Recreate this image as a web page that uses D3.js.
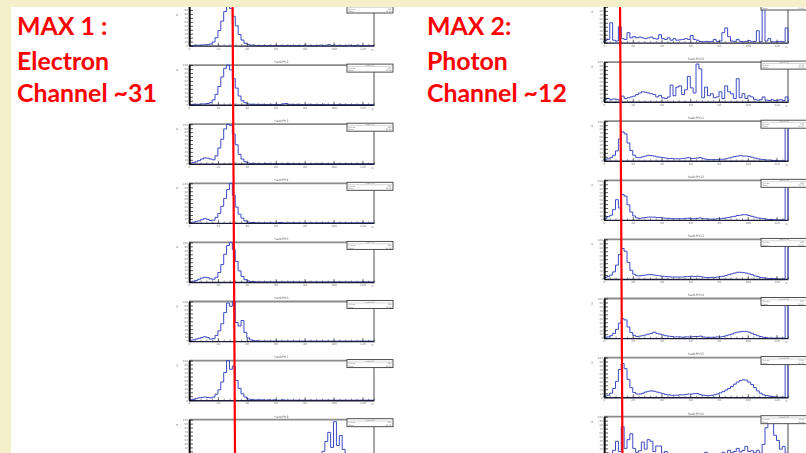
<!DOCTYPE html>
<html>
<head>
<meta charset="utf-8">
<script src="https://cdn.jsdelivr.net/npm/d3@7"></script>
<style>
  html, body { margin: 0; padding: 0; background: #ffffff; }
  svg { display: block; }
</style>
</head>
<body>
<svg id="chart" width="806" height="453"></svg>
<script>
// ---- ADC spectra, 64 bins of 2 channels each over channels 0..128 ----
// Electron-side readout (left column), counts in % of each pad's full scale
const elec1 = [0,0,1,1,1,2,2,4,9,20,38,62,86,100,94,74,50,28,14,6,3,1,1,0,0,0,0,0,0,0,0,0,0,0,0,0,0,0,0,0,1,0,0,0,0,1,0,1,2,0,1,0,0,0,0,1,0,0,1,0,0,0,0,0];
const elec2 = [0,1,1,1,2,2,3,5,12,26,46,70,92,100,88,66,42,22,10,5,2,1,1,1,0,1,0,0,1,0,1,0,2,3,1,1,0,1,0,0,0,1,0,0,0,0,1,0,0,0,0,0,1,0,0,0,0,0,0,0,0,0,0,0];
const elec3 = [2,3,5,8,12,15,14,12,10,20,40,62,88,100,97,75,48,24,12,5,2,1,1,0,0,0,1,0,0,0,0,0,0,0,1,0,0,0,0,0,0,0,0,0,0,1,0,0,0,0,0,0,0,0,0,0,0,0,0,0,0,0,0,0];
const elec4 = [1,2,3,5,8,11,9,6,7,14,24,42,62,84,100,70,40,22,12,5,2,1,1,0,0,0,0,0,0,0,0,1,0,0,0,0,0,0,0,0,0,0,0,0,0,0,0,0,0,0,0,0,0,0,0,0,0,0,0,0,0,0,0,0];
const elec5 = [1,2,4,7,10,12,11,8,7,12,24,44,70,92,100,82,52,28,14,6,3,1,1,0,0,0,0,0,0,0,0,0,0,0,0,0,0,0,0,0,0,0,0,0,0,0,0,0,0,0,0,0,0,0,0,0,0,0,0,0,0,0,0,0];
const elec6 = [2,3,5,7,9,11,9,5,6,14,26,44,72,96,88,100,47,38,52,22,8,3,1,1,0,0,0,0,0,0,0,0,0,0,0,0,0,0,0,0,0,0,0,0,0,0,0,0,0,0,0,0,0,0,0,0,0,0,0,0,0,0,0,0];
const elec7 = [1,2,4,6,7,8,7,6,8,15,26,46,70,100,78,86,50,30,16,8,3,2,1,1,1,1,0,1,0,1,0,0,1,0,0,0,0,0,0,0,0,0,0,0,0,0,0,0,0,0,0,0,0,0,0,0,0,0,0,0,0,0,0,0];
const elec8 = [0,0,0,1,0,0,0,0,1,0,0,0,0,0,0,0,0,0,0,0,0,0,0,0,0,0,0,0,0,0,0,0,0,0,0,0,0,0,0,0,0,0,2,3,5,8,20,45,68,30,95,35,60,25,10,4,2,1,0,0,0,0,0,0];

// Photon-side readout (right column)
const phot1 = [5,8,50,6,4,40,10,8,25,12,15,12,14,12,10,12,14,10,9,20,10,8,12,6,10,6,7,8,10,8,18,8,6,3,2,3,2,3,8,3,4,25,37,15,4,3,8,3,2,3,5,2,3,30,2,100,4,10,2,2,3,3,2,37];
const phot2 = [6,8,5,7,6,4,14,8,10,12,14,18,22,25,24,22,20,18,12,16,10,8,12,42,15,37,40,18,30,64,35,22,95,83,10,37,15,20,10,12,25,8,40,25,20,8,58,10,20,8,15,12,6,4,5,12,4,3,5,3,4,5,3,12];
const phot3 = [4,5,8,14,25,55,73,68,45,26,14,8,8,10,12,14,13,12,10,9,8,7,6,6,5,5,5,6,7,8,6,6,7,8,6,4,3,3,3,3,4,4,5,7,9,11,12,13,12,12,11,9,7,5,4,3,2,2,1,1,0,0,0,100];
const phot4 = [3,8,12,26,51,30,64,60,38,20,10,5,4,5,6,7,7,7,6,6,5,4,4,3,3,3,3,3,4,4,3,3,4,5,3,3,2,2,2,3,3,4,5,6,8,9,11,12,13,13,11,9,7,5,4,3,2,1,1,0,0,0,0,100];
const phot5 = [4,6,10,18,35,62,77,70,42,22,12,8,8,9,10,11,11,10,9,8,7,6,6,5,5,5,5,5,6,6,7,6,7,6,5,4,4,4,4,5,6,7,9,11,13,15,17,17,16,15,13,11,8,6,4,3,2,1,1,1,0,0,0,100];
const phot6 = [2,3,6,12,22,38,49,46,28,14,7,4,5,6,8,10,12,15,12,10,8,6,5,4,3,3,3,2,3,3,3,4,4,5,3,2,2,2,2,3,3,4,6,8,10,13,15,16,17,17,15,12,9,6,4,2,1,0,0,0,0,0,0,100];
const phot7 = [3,5,10,22,40,70,85,72,45,24,12,8,8,10,13,15,16,15,13,11,9,7,6,5,5,5,6,6,7,8,8,9,9,7,5,4,4,5,6,8,11,14,18,22,27,33,38,42,44,43,38,32,24,16,10,6,4,3,2,1,0,0,0,100];
const phot8 = [5,8,3,15,38,12,75,20,42,57,20,10,14,36,18,42,38,12,26,26,8,12,5,7,4,6,3,5,4,3,5,3,4,6,3,10,4,5,3,6,5,10,7,15,9,12,20,11,15,25,12,14,9,15,8,30,72,85,85,53,40,18,25,8];

const electronHists = [elec1, elec2, elec3, elec4, elec5, elec6, elec7, elec8];
const photonHists = [phot1, phot2, phot3, phot4, phot5, phot6, phot7, phot8];

const electronTitles = ["hadcPH1","hadcPH2","hadcPH3","hadcPH4","hadcPH5","hadcPH6","hadcPH7","hadcPH8"];
const photonTitles = ["hadcPH9","hadcPH10","hadcPH11","hadcPH12","hadcPH13","hadcPH14","hadcPH15","hadcPH16"];

// Axis ranges and ticks
const xDomain = [0, 128];
const binWidth = 2;
const yDomain = [0, 100];
const xTicks = [0, 20, 40, 60, 80, 100, 120];
const yTicks = [0, 10, 20, 30, 40, 50, 60, 70, 80, 90, 100];

// Channel marked by each vertical line, and the annotations
const markerChannels = [31, 12];
const electronLabel = ["MAX 1 :", "Electron", "Channel ~31"];
const photonLabel = ["MAX 2:", "Photon", "Channel ~12"];

// ---- drawing ----
const W = 806, H = 453;
const marginTop = 7, marginLeft = 11;   // cream slide border
const svg = d3.select("#chart");
svg.append("rect").attr("width", W).attr("height", H).attr("fill", "#ffffff");

const defs = svg.append("defs");
defs.append("filter").attr("id", "soft")
  .append("feGaussianBlur").attr("stdDeviation", 0.3);

const columns = [
  { x0: 189, x1: 374, top0: 6, hists: electronHists, titles: electronTitles },
  { x0: 604, x1: 788, top0: 3, hists: photonHists, titles: photonTitles }
];
const pitch = 59.1;
const padH = 39.6;
const histColor = "#3d4ac4";
const tinyFont = "DejaVu Sans";

function drawPad(g, counts, title, x0, x1, top) {
  const xs = d3.scaleLinear().domain(xDomain).range([x0, x1]);
  const ys = d3.scaleLinear().domain(yDomain).range([top + padH, top]);
  const bottom = top + padH;
  const bottomVisible = bottom + 6 < H;

  // stats box geometry (ROOT-style, overlapping the top-right corner)
  const boxX = x1 - 27, boxW = 46, boxY = top - 1, boxH = 8;

  // frame: grey top edge, dark right edge
  g.append("line").attr("x1", x0).attr("x2", boxX).attr("y1", top).attr("y2", top)
    .attr("stroke", "#8a8a8a").attr("stroke-width", 1.8);
  g.append("line").attr("x1", x1).attr("x2", x1).attr("y1", boxY + boxH).attr("y2", bottom)
    .attr("stroke", "#4a4a55").attr("stroke-width", 1);

  // histogram outline
  const pts = [{ c: xDomain[0], v: 0 }];
  counts.forEach((v, i) => pts.push({ c: i * binWidth, v }));
  pts.push({ c: counts.length * binWidth, v: counts[counts.length - 1] });
  pts.push({ c: counts.length * binWidth, v: 0 });
  const line = d3.line().x(d => xs(d.c)).y(d => ys(d.v)).curve(d3.curveStepAfter);
  g.append("path").attr("d", line(pts)).attr("fill", "none")
    .attr("stroke", histColor).attr("stroke-width", 1.0).attr("stroke-linejoin", "miter");

  // x axis
  const xMinor = d3.range(xDomain[0], xDomain[1] + 0.1, 4);
  const xAxMinor = g.append("g").attr("transform", `translate(0,${bottom})`)
    .call(d3.axisBottom(xs).tickValues(xMinor).tickSize(-1.5).tickFormat(""));
  xAxMinor.select(".domain").remove();
  xAxMinor.selectAll("line").attr("stroke", "#222").attr("stroke-width", 0.5);
  const xAx = g.append("g").attr("transform", `translate(0,${bottom})`)
    .call(d3.axisBottom(xs).tickValues(xTicks).tickSize(-3).tickPadding(1.8).tickSizeOuter(0));
  xAx.select(".domain").attr("stroke", "#1c1c3a").attr("stroke-width", 1.4);
  xAx.selectAll("line").attr("stroke", "#222").attr("stroke-width", 0.6);
  if (bottomVisible) {
    xAx.selectAll("text").attr("font-size", 3).attr("fill", "#777").attr("font-family", tinyFont);
    g.append("text").attr("x", x1).attr("y", bottom + 5).attr("text-anchor", "end")
      .attr("font-size", 2.6).attr("fill", "#888").attr("font-family", tinyFont).text("ch");
  } else {
    // the lower edge of this pad falls below the page
    xAx.selectAll("text").remove();
  }

  // y axis with dense ticks
  const yMinor = d3.range(yDomain[0], yDomain[1] + 0.1, 2);
  const yAxMinor = g.append("g").attr("transform", `translate(${x0},0)`)
    .call(d3.axisLeft(ys).tickValues(yMinor).tickSize(-2).tickFormat(""));
  yAxMinor.select(".domain").remove();
  yAxMinor.selectAll("line").attr("stroke", "#111").attr("stroke-width", 0.5);
  const yAx = g.append("g").attr("transform", `translate(${x0},0)`)
    .call(d3.axisLeft(ys).tickValues(yTicks).tickSize(-4).tickPadding(1.2).tickSizeOuter(0));
  yAx.select(".domain").attr("stroke", "#111").attr("stroke-width", 1.6);
  yAx.selectAll("line").attr("stroke", "#111").attr("stroke-width", 0.7);
  yAx.selectAll("text").attr("font-size", 2.6).attr("fill", "#777").attr("font-family", tinyFont);
  yAx.selectAll(".tick").filter(d => ys(d) > H - 3 || ys(d) < marginTop + 1).select("text").remove();
  g.append("text").attr("transform", `translate(${x0 - 11},${top + 4 + (top < marginTop ? 4 : 0)}) rotate(-90)`)
    .attr("text-anchor", "end").attr("font-size", 2.6).attr("fill", "#777")
    .attr("font-family", tinyFont).text("N");

  // pad title (the top row's titles sit under the slide border and are not drawn)
  const titleY = top - 2.2;
  if (titleY > marginTop + 2) {
    g.append("text").attr("x", (x0 + x1) / 2).attr("y", titleY).attr("text-anchor", "middle")
      .attr("font-size", 3.2).attr("fill", "#666").attr("font-family", tinyFont).text(title);
  }

  // stats box
  const entries = d3.sum(counts);
  const mean = d3.sum(counts, (v, i) => v * (i + 0.5) * binWidth) / entries;
  g.append("rect").attr("x", boxX).attr("y", boxY).attr("width", boxW).attr("height", boxH)
    .attr("fill", "#ffffff").attr("stroke", "#3c3c3c").attr("stroke-width", 0.9);
  g.append("line").attr("x1", boxX + 1).attr("x2", boxX + boxW - 1).attr("y1", boxY + 2.4).attr("y2", boxY + 2.4)
    .attr("stroke", "#999").attr("stroke-width", 0.4);
  if (boxY + 2 > marginTop + 1) {
    g.append("text").attr("x", boxX + boxW / 2).attr("y", boxY + 2).attr("text-anchor", "middle")
      .attr("font-size", 2).attr("fill", "#777").attr("font-family", tinyFont).text(title);
  }
  const rows = [["Entries", String(Math.round(entries))], ["Mean", mean.toFixed(2)]];
  rows.forEach((r, k) => {
    const yy = boxY + 4.6 + k * 2.5;
    if (yy < marginTop + 2) return;
    g.append("text").attr("x", boxX + 1.5).attr("y", yy).attr("font-size", 2)
      .attr("fill", "#777").attr("font-family", tinyFont).text(r[0]);
    g.append("text").attr("x", Math.min(boxX + boxW - 1.5, W - 2)).attr("y", yy).attr("text-anchor", "end")
      .attr("font-size", 2).attr("fill", "#777").attr("font-family", tinyFont).text(r[1]);
  });

  return xs;
}

const colScales = [];
columns.forEach(col => {
  const cg = svg.append("g").attr("filter", "url(#soft)");
  let xs;
  col.hists.forEach((counts, i) => {
    const top = col.top0 + i * pitch;
    xs = drawPad(cg.append("g"), counts, col.titles[i], col.x0, col.x1, top);
  });
  colScales.push(xs);
});

// annotations
const labelX = [17, 427];
const baselines = [35, 70, 102];
const targetWidth = 140;
[electronLabel, photonLabel].forEach((lines, k) => {
  const tg = svg.append("g").attr("font-family", "Lato, 'Open Sans', sans-serif")
    .attr("font-weight", 700).attr("fill", "#ff0000");
  const texts = lines.map((s, j) => tg.append("text").attr("x", labelX[k]).attr("y", baselines[j])
    .attr("font-size", 22).text(s));
  const w = texts[2].node().getComputedTextLength();
  const fs = 22 * targetWidth / w;
  texts.forEach(t => t.attr("font-size", fs));
});

// vertical markers at the quoted channels
markerChannels.forEach((ch, k) => {
  const xm = colScales[k](ch);
  svg.append("line").attr("x1", xm - 1.2).attr("x2", xm + 1.2).attr("y1", marginTop).attr("y2", H)
    .attr("stroke", "#ff0000").attr("stroke-width", 2.2);
});

// slide background margins
svg.append("rect").attr("x", 0).attr("y", 0).attr("width", W).attr("height", marginTop).attr("fill", "#f5f0c9");
svg.append("rect").attr("x", 0).attr("y", 0).attr("width", marginLeft).attr("height", H).attr("fill", "#f5f0c9");
</script>
</body>
</html>
